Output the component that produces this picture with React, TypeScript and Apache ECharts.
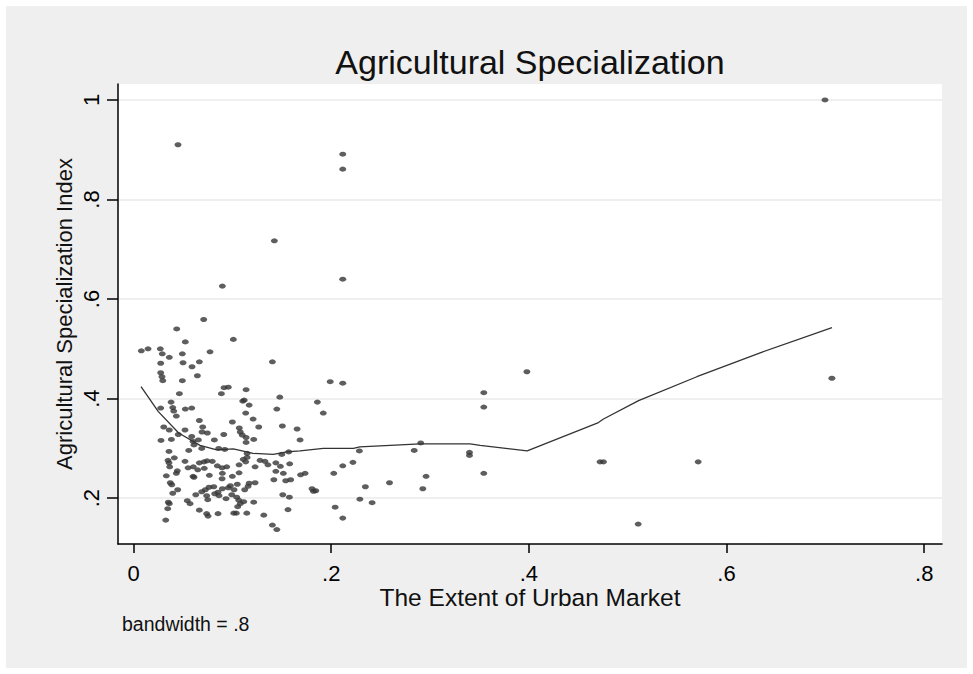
import React, { useEffect, useRef } from "react";
import * as echarts from "echarts";

const xTicks = [0, 0.2, 0.4, 0.6, 0.8];
const yTicks = [0.2, 0.4, 0.6, 0.8, 1];

const titleText = "Agricultural Specialization";
const xTitle = "The Extent of Urban Market";
const yTitle = "Agricultural Specialization Index";
const noteText = "bandwidth = .8";

// The Extent of Urban Market (x)
const urbanMarket = [
  0.071, 0.0437, 0.0524, 0.101, 0.0079, 0.0147, 0.0271, 0.0291, 0.0362, 0.0494,
  0.0774, 0.0275, 0.0501, 0.0666, 0.0592, 0.1405, 0.0275, 0.0288, 0.0296, 0.0494,
  0.0646, 0.0916, 0.0959, 0.0889, 0.1139, 0.0464, 0.148, 0.1105, 0.112, 0.117,
  0.186, 0.038, 0.0275, 0.0397, 0.0407, 0.0524, 0.0589, 0.145, 0.1135, 0.0433,
  0.121, 0.0666, 0.1, 0.0306, 0.0362, 0.07, 0.0693, 0.0747, 0.0521, 0.1267,
  0.1506, 0.1655, 0.1685, 0.0278, 0.0383, 0.0453, 0.0589, 0.0602, 0.0612, 0.0656,
  0.0818, 0.0913, 0.107, 0.108, 0.11, 0.1139, 0.1139, 0.1216, 0.0559, 0.069,
  0.0862, 0.0923, 0.1149, 0.15, 0.157, 0.0359, 0.0349, 0.0359, 0.0366, 0.0413,
  0.0521, 0.0552, 0.0605, 0.065, 0.0666, 0.0713, 0.0744, 0.0797, 0.0848, 0.0716,
  0.0896, 0.0943, 0.1068, 0.111, 0.1135, 0.1149, 0.123, 0.128, 0.133, 0.136,
  0.144, 0.1486, 0.158, 0.0332, 0.0443, 0.0433, 0.0602, 0.0612, 0.0767, 0.0899,
  0.1, 0.1068, 0.144, 0.1516, 0.142, 0.154, 0.159, 0.169, 0.1736, 0.0372,
  0.0387, 0.0896, 0.0397, 0.0447, 0.069, 0.0727, 0.0764, 0.0812, 0.0855, 0.0899,
  0.0959, 0.098, 0.1017, 0.105, 0.1159, 0.117, 0.1125, 0.123, 0.063, 0.074,
  0.0751, 0.0822, 0.0865, 0.0936, 0.0994, 0.1044, 0.1065, 0.1115, 0.108, 0.1054,
  0.1216, 0.151, 0.1577, 0.1806, 0.1844, 0.182, 0.0352, 0.0362, 0.0346, 0.0544,
  0.0572, 0.0666, 0.074, 0.0754, 0.0855, 0.1014, 0.104, 0.1146, 0.1318, 0.1563,
  0.0326, 0.1405, 0.145, 0.199, 0.2117, 0.192, 0.2285, 0.284, 0.2906, 0.398,
  0.3544, 0.3544, 0.3399, 0.3399, 0.3544, 0.472, 0.4755, 0.2026, 0.2117, 0.222,
  0.2346, 0.259, 0.296, 0.2927, 0.229, 0.2414, 0.204, 0.2117, 0.045, 0.0899,
  0.1425, 0.2117, 0.2117, 0.2117, 0.6996, 0.7066, 0.5713, 0.5106,
];

// Agricultural Specialization Index (y)
const specIndex = [
  0.559, 0.54, 0.514, 0.519, 0.496, 0.5, 0.5, 0.49, 0.483, 0.49,
  0.494, 0.471, 0.472, 0.474, 0.464, 0.474, 0.452, 0.444, 0.436, 0.436,
  0.446, 0.422, 0.423, 0.41, 0.418, 0.41, 0.403, 0.395, 0.397, 0.387,
  0.393, 0.393, 0.381, 0.382, 0.375, 0.379, 0.381, 0.379, 0.371, 0.365,
  0.359, 0.356, 0.353, 0.343, 0.337, 0.343, 0.333, 0.331, 0.337, 0.343,
  0.345, 0.339, 0.317, 0.316, 0.318, 0.328, 0.324, 0.314, 0.307, 0.317,
  0.317, 0.328, 0.341, 0.333, 0.327, 0.322, 0.312, 0.318, 0.296, 0.3,
  0.3, 0.298, 0.29, 0.288, 0.293, 0.294, 0.276, 0.271, 0.263, 0.281,
  0.274, 0.261, 0.263, 0.257, 0.271, 0.273, 0.275, 0.274, 0.265, 0.26,
  0.261, 0.263, 0.267, 0.278, 0.273, 0.282, 0.263, 0.276, 0.274, 0.267,
  0.271, 0.264, 0.269, 0.245, 0.255, 0.25, 0.244, 0.242, 0.246, 0.25,
  0.244, 0.251, 0.254, 0.25, 0.237, 0.235, 0.237, 0.247, 0.25, 0.231,
  0.227, 0.239, 0.21, 0.217, 0.213, 0.217, 0.222, 0.223, 0.212, 0.219,
  0.221, 0.225, 0.217, 0.228, 0.224, 0.23, 0.217, 0.231, 0.207, 0.205,
  0.197, 0.209, 0.205, 0.199, 0.207, 0.202, 0.196, 0.193, 0.189, 0.183,
  0.192, 0.207, 0.202, 0.219, 0.215, 0.214, 0.192, 0.189, 0.179, 0.195,
  0.189, 0.176, 0.169, 0.164, 0.169, 0.17, 0.17, 0.17, 0.166, 0.177,
  0.156, 0.146, 0.137, 0.434, 0.431, 0.371, 0.295, 0.296, 0.311, 0.454,
  0.412, 0.383, 0.292, 0.286, 0.25, 0.273, 0.273, 0.25, 0.265, 0.272,
  0.223, 0.231, 0.244, 0.219, 0.198, 0.191, 0.182, 0.16, 0.91, 0.626,
  0.717, 0.891, 0.861, 0.64, 1, 0.441, 0.273, 0.148,
];

// lowess smooth
const lowessX = [
  0.0076, 0.0251, 0.0457, 0.0673, 0.0842, 0.101, 0.121, 0.1415, 0.155, 0.1685,
  0.192, 0.2225, 0.229, 0.2596, 0.29, 0.3406, 0.3507, 0.3983, 0.4704, 0.4755,
  0.511, 0.57, 0.634, 0.7067,
];
const lowessY = [
  0.424, 0.374, 0.331, 0.306, 0.297, 0.299, 0.29, 0.288, 0.293, 0.295,
  0.3, 0.3, 0.303, 0.306, 0.309, 0.309, 0.306, 0.295, 0.352, 0.359,
  0.396, 0.444, 0.492, 0.5426,
];

const fmt = (v: number) => {
  if (v === 0) return "0";
  if (v === 1) return "1";
  return String(v).replace(/^0\./, ".");
};

const FONT = "'Liberation Sans', Arial, sans-serif";

export default function App() {
  const ref = useRef<HTMLDivElement>(null);
  useEffect(() => {
    if (!ref.current) return;
    const chart = echarts.init(ref.current, undefined, { renderer: "svg" });
    const scatterData = urbanMarket.map((x, i) => [x, specIndex[i]]);
    const lineData = lowessX.map((x, i) => [x, lowessY[i]]);
    chart.setOption({
      animation: false,
      backgroundColor: "#ffffff",
      grid: {
        left: 118,
        top: 84,
        width: 824,
        height: 460,
        show: true,
        backgroundColor: "#ffffff",
        borderWidth: 0,
      },
      xAxis: {
        type: "value",
        min: -0.0157,
        max: 0.818,
        axisLine: { show: true, onZero: false, lineStyle: { color: "#000", width: 1.5 } },
        axisTick: { show: true, customValues: xTicks, length: 9, lineStyle: { color: "#000", width: 1.5 } },
        axisLabel: {
          customValues: xTicks,
          formatter: fmt,
          fontSize: 22,
          fontFamily: FONT,
          color: "#000",
          margin: 18,
        },
        splitLine: { show: false },
      },
      yAxis: {
        type: "value",
        min: 0.108,
        max: 1.032,
        axisLine: { show: true, onZero: false, lineStyle: { color: "#000", width: 1.5 } },
        axisTick: { show: true, customValues: yTicks, length: 11, lineStyle: { color: "#000", width: 1.5 } },
        axisLabel: {
          customValues: yTicks,
          formatter: fmt,
          fontSize: 22,
          fontFamily: FONT,
          color: "#000",
          rotate: 90,
          margin: 16,
        },
        splitLine: { show: true, lineStyle: { color: "#eaeaea", width: 1.5 } },
      },
      graphic: [
        {
          type: "rect",
          z: -10,
          silent: true,
          shape: { x: 6, y: 6, width: 961, height: 662 },
          style: { fill: "#efefef" },
        },
        {
          type: "text",
          x: 530,
          y: 62,
          style: {
            text: titleText,
            font: `34px ${FONT}`,
            fill: "#111",
            textAlign: "center",
            textVerticalAlign: "middle",
          },
        },
        {
          type: "text",
          x: 530,
          y: 597,
          style: {
            text: xTitle,
            font: `24.5px ${FONT}`,
            fill: "#111",
            textAlign: "center",
            textVerticalAlign: "middle",
          },
        },
        {
          type: "text",
          x: 64,
          y: 314,
          rotation: Math.PI / 2,
          style: {
            text: yTitle,
            font: `22px ${FONT}`,
            fill: "#111",
            textAlign: "center",
            textVerticalAlign: "middle",
          },
        },
        {
          type: "text",
          x: 122,
          y: 624,
          style: {
            text: noteText,
            font: `19.5px ${FONT}`,
            fill: "#111",
            textAlign: "left",
            textVerticalAlign: "middle",
          },
        },
      ],
      series: [
        {
          type: "scatter",
          data: scatterData,
          symbol: "circle",
          symbolSize: [7, 5],
          itemStyle: { color: "#363636" },
          silent: true,
        },
        {
          type: "line",
          data: lineData,
          showSymbol: false,
          symbol: "none",
          lineStyle: { color: "#333", width: 1.3 },
          silent: true,
          z: 3,
        },
      ],
    });
    return () => chart.dispose();
  }, []);
  return (
    <div
      ref={ref}
      style={{ position: "fixed", left: 0, top: 0, width: 973, height: 674 }}
    />
  );
}
